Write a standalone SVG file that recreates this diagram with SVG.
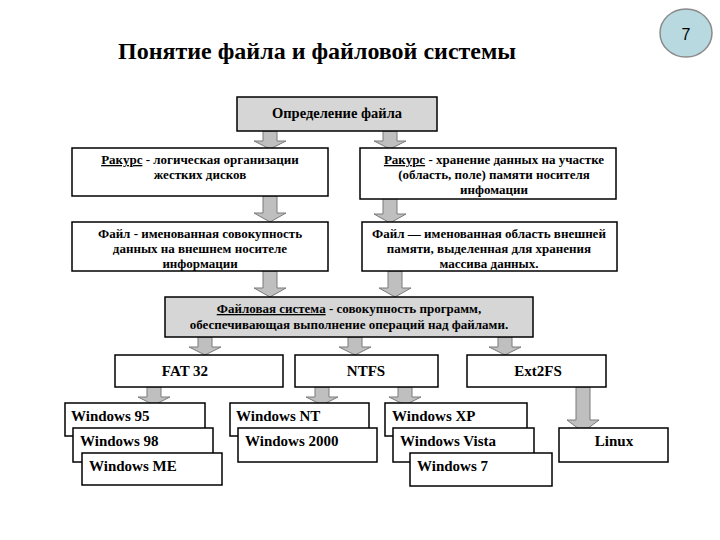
<svg xmlns="http://www.w3.org/2000/svg" width="720" height="540" viewBox="0 0 720 540">
<style>
.box{fill:#ffffff;stroke:#000000;stroke-width:1.5}
.gbox{fill:#d6d6d6;stroke:#000000;stroke-width:1.5}
.t{font-family:'Liberation Serif','Times New Roman',serif;font-weight:bold;font-size:13px;fill:#000000}
.c{text-anchor:middle}
.w{font-family:'Liberation Serif','Times New Roman',serif;font-weight:bold;font-size:15px;fill:#000000}
.u{text-decoration:underline}
.arr{fill:#bfbfbf;stroke:#7a7a7a;stroke-width:1}
</style>
<defs>
<path id="a18" d="M-7,0 L7,0 L7,10 L16,10 L0,18 L-16,10 L-7,10 Z"/>
<path id="a26" d="M-7,0 L7,0 L7,17 L16,17 L0,26 L-16,17 L-7,17 Z"/>
<path id="a45" d="M-7,0 L7,0 L7,33 L16,33 L0,45 L-16,33 L-7,33 Z"/>
</defs>
<text x="118" y="59" font-family="'Liberation Serif','Times New Roman',serif" font-weight="bold" font-size="24">Понятие файла и файловой системы</text>
<g id="page">
<ellipse cx="686" cy="33" rx="26" ry="24" fill="#b8d9e0" stroke="#8a8a8a" stroke-width="1.5"/>
<text x="686" y="40" text-anchor="middle" font-family="'Liberation Sans',Arial,sans-serif" font-size="16">7</text>
</g>
<g id="connectors" class="arr">
<use href="#a18" x="270" y="131"/>
<use href="#a18" x="390" y="131"/>
<use href="#a26" x="270" y="196"/>
<use href="#a26" x="390" y="197"/>
<use href="#a26" x="270" y="271"/>
<use href="#a26" x="395" y="271"/>
<use href="#a18" x="205" y="337"/>
<use href="#a18" x="355" y="337"/>
<use href="#a18" x="505" y="337"/>
<use href="#a18" x="154" y="387"/>
<use href="#a18" x="322" y="387"/>
<use href="#a18" x="405" y="387"/>
<use href="#a45" x="583" y="387"/>
</g>
<g id="def">
<rect class="gbox" x="237" y="97" width="200" height="34"/>
<text class="t c" x="337" y="118" style="font-size:14.5px">Определение файла</text>
</g>
<g id="rakurs1">
<rect class="box" x="72" y="148" width="256" height="48"/>
<text class="t c" x="200" y="164"><tspan class="u">Ракурс</tspan> - логическая организации</text>
<text class="t c" x="200" y="179">жестких дисков</text>
</g>
<g id="rakurs2">
<rect class="box" x="360" y="148" width="256" height="51"/>
<text class="t c" x="494" y="164"><tspan class="u">Ракурс</tspan> - хранение данных на участке</text>
<text class="t c" x="494" y="179">(область, поле) памяти носителя</text>
<text class="t c" x="494" y="194">инфомации</text>
</g>
<g id="file1">
<rect class="box" x="72" y="222" width="256" height="49"/>
<text class="t c" x="200" y="238">Файл - именованная совокупность</text>
<text class="t c" x="200" y="253">данных на внешнем носителе</text>
<text class="t c" x="200" y="268">информации</text>
</g>
<g id="file2">
<rect class="box" x="362" y="222" width="255" height="49"/>
<text class="t c" x="489" y="238">Файл — именованная область внешней</text>
<text class="t c" x="489" y="253">памяти, выделенная для хранения</text>
<text class="t c" x="489" y="268">массива данных.</text>
</g>
<g id="fs">
<rect class="gbox" x="165" y="297" width="368" height="40"/>
<text class="t c" x="349" y="313"><tspan class="u">Файловая  система</tspan> - совокупность программ,</text>
<text class="t c" x="349" y="329">обеспечивающая выполнение операций над файлами.</text>
</g>
<g id="fat32">
<rect class="box" x="115" y="355" width="168" height="32"/>
<text class="w c" x="185" y="376">FAT 32</text>
</g>
<g id="ntfs">
<rect class="box" x="295" y="355" width="143" height="32"/>
<text class="w c" x="366" y="376">NTFS</text>
</g>
<g id="ext2fs">
<rect class="box" x="467" y="355" width="139" height="32"/>
<text class="w c" x="538" y="376">Ext2FS</text>
</g>
<g id="win95">
<rect class="box" x="65" y="403" width="140" height="33"/>
<text class="w" x="71" y="421">Windows 95</text>
</g>
<g id="win98">
<rect class="box" x="73" y="428" width="140" height="34"/>
<text class="w" x="80" y="446">Windows 98</text>
</g>
<g id="winme">
<rect class="box" x="82" y="453" width="140" height="32"/>
<text class="w" x="89" y="471">Windows ME</text>
</g>
<g id="winnt">
<rect class="box" x="230" y="403" width="139" height="33"/>
<text class="w" x="236" y="421">Windows NT</text>
</g>
<g id="win2000">
<rect class="box" x="238" y="428" width="139" height="34"/>
<text class="w" x="245" y="446">Windows 2000</text>
</g>
<g id="winxp">
<rect class="box" x="385" y="403" width="142" height="33"/>
<text class="w" x="392" y="421">Windows XP</text>
</g>
<g id="winvista">
<rect class="box" x="393" y="428" width="141" height="34"/>
<text class="w" x="400" y="446">Windows Vista</text>
</g>
<g id="win7">
<rect class="box" x="410" y="453" width="142" height="33"/>
<text class="w" x="417" y="471">Windows 7</text>
</g>
<g id="linux">
<rect class="box" x="559" y="428" width="109" height="34"/>
<text class="w c" x="614" y="446">Linux</text>
</g>
</svg>
